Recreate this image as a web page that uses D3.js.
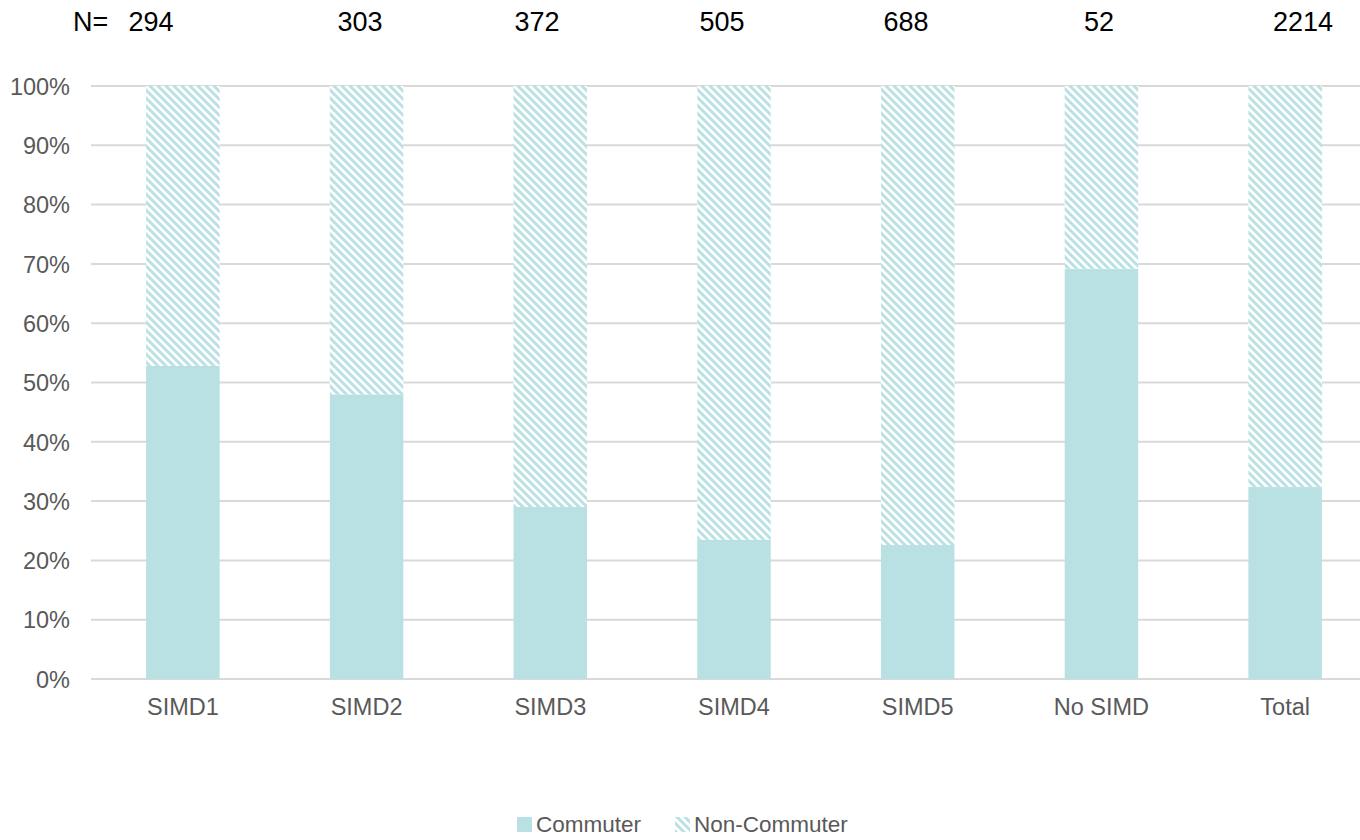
<!DOCTYPE html>
<html>
<head>
<meta charset="utf-8">
<script src="https://cdn.jsdelivr.net/npm/d3@7"></script>
<style>
  html, body { margin: 0; padding: 0; background: #fff; }
  svg { display: block; font-family: "Liberation Sans", Arial, sans-serif; }
</style>
</head>
<body>
<svg id="chart" width="1360" height="840"></svg>
<script>
const categories = ["SIMD1", "SIMD2", "SIMD3", "SIMD4", "SIMD5", "No SIMD", "Total"];
const commuter = [52.8, 48.0, 29.0, 23.5, 22.6, 69.2, 32.4];
const nonCommuter = commuter.map(v => 100 - v);
const nValues = ["294", "303", "372", "505", "688", "52", "2214"];
const yTicks = [0, 10, 20, 30, 40, 50, 60, 70, 80, 90, 100];
const seriesNames = ["Commuter", "Non-Commuter"];

// layout
const nLabelX = [151, 360, 537, 722, 906, 1099, 1303];
const colour = "#b9e0e2";

const svg = d3.select("#chart");
const defs = svg.append("defs");
const pat = defs.append("pattern")
  .attr("id", "diag").attr("patternUnits", "userSpaceOnUse")
  .attr("width", 8).attr("height", 8);
pat.append("rect").attr("width", 8).attr("height", 8).attr("fill", "#fff");
pat.append("path")
  .attr("d", "M-4,-4 L12,12 M-12,-4 L4,12 M4,-4 L20,12")
  .attr("stroke", colour).attr("stroke-width", 2.9).attr("fill", "none");

const x = d3.scaleBand().domain(categories).range([91, 1377])
  .paddingInner(0.6).paddingOuter(0.3);
const y = d3.scaleLinear().domain([0, 100]).range([679, 86]);

// gridlines
svg.append("g").selectAll("line").data(yTicks).join("line")
  .attr("x1", 91).attr("x2", 1377)
  .attr("y1", d => y(d)).attr("y2", d => y(d))
  .attr("stroke", "#d9d9d9").attr("stroke-width", 2);

// y axis labels
const yAxis = d3.axisLeft(y).tickValues(yTicks).tickFormat(d => d + "%").tickSize(0).tickPadding(0);
const yg = svg.append("g").attr("transform", "translate(70,0)").call(yAxis);
yg.select(".domain").remove();
yg.selectAll("text").attr("font-size", 23.5).attr("fill", "#595959")
  .attr("font-family", "Liberation Sans, Arial, sans-serif").attr("dy", "0.35em");

// bars
const data = categories.map((c, i) => ({ c, com: commuter[i], non: nonCommuter[i] }));
svg.append("g").selectAll("rect.com").data(data).join("rect")
  .attr("class", "com")
  .attr("x", d => x(d.c)).attr("width", x.bandwidth())
  .attr("y", d => y(d.com)).attr("height", d => y(0) - y(d.com))
  .attr("fill", colour);
svg.append("g").selectAll("rect.non").data(data).join("rect")
  .attr("class", "non")
  .attr("x", d => x(d.c)).attr("width", x.bandwidth())
  .attr("y", d => y(d.com + d.non)).attr("height", d => y(d.com) - y(d.com + d.non))
  .attr("fill", "url(#diag)");

// x axis labels
const xAxis = d3.axisBottom(x).tickSize(0).tickPadding(0);
const xg = svg.append("g").attr("transform", "translate(0,707)").call(xAxis);
xg.select(".domain").remove();
xg.selectAll("text").attr("font-size", 23.5).attr("fill", "#595959")
  .attr("font-family", "Liberation Sans, Arial, sans-serif").attr("dy", "0.35em");

// N labels
svg.append("text").attr("x", 73).attr("y", 22).attr("dy", "0.35em").attr("font-size", 27).attr("fill", "#000").text("N=");
svg.append("g").selectAll("text").data(nValues).join("text")
  .attr("x", (d, i) => nLabelX[i]).attr("y", 22).attr("dy", "0.35em")
  .attr("text-anchor", "middle").attr("font-size", 27).attr("fill", "#000")
  .text(d => d);

// legend
const leg = svg.append("g").attr("transform", "translate(517,817)");
leg.append("rect").attr("x", 0).attr("y", 0).attr("width", 15).attr("height", 15).attr("fill", colour);
leg.append("text").attr("x", 19).attr("y", 7).attr("dy", "0.35em").attr("font-size", 22.5).attr("fill", "#595959").text(seriesNames[0]);
leg.append("rect").attr("x", 158).attr("y", 0).attr("width", 15).attr("height", 15).attr("fill", "url(#diag)");
leg.append("text").attr("x", 177).attr("y", 7).attr("dy", "0.35em").attr("font-size", 22.5).attr("fill", "#595959").text(seriesNames[1]);
</script>
</body>
</html>
